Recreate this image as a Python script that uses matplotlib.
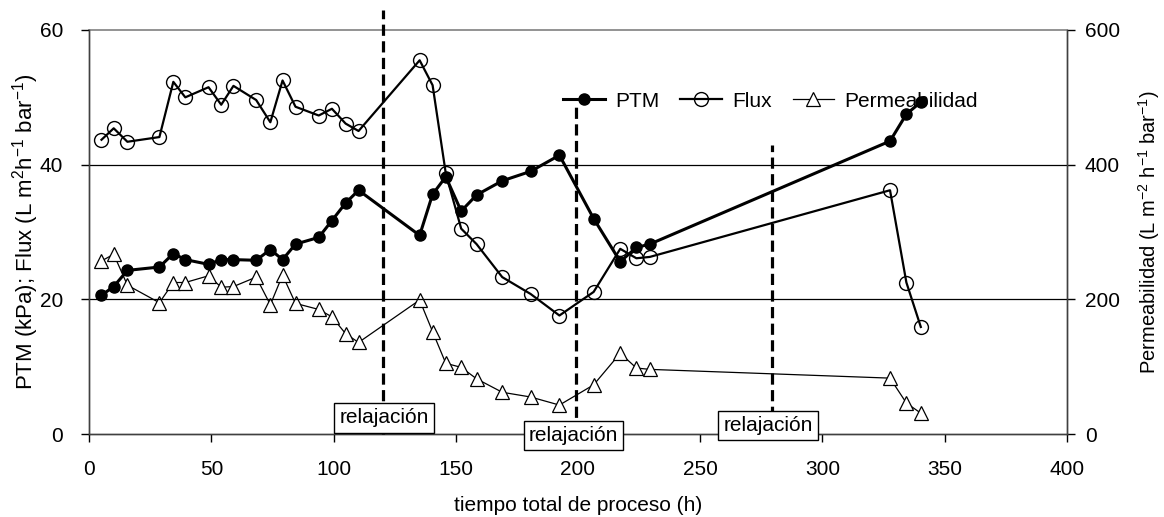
import numpy as np
import matplotlib
matplotlib.use("Agg")
import matplotlib.pyplot as plt
from matplotlib.lines import Line2D

plt.rcParams['font.family'] = ['Liberation Sans', 'DejaVu Sans']
plt.rcParams['mathtext.default'] = 'regular'

# tiempos de muestreo (h)
tiempo = [5, 10, 15.6, 28.7, 34.4, 39.3, 48.8, 54, 59, 68.3, 74.1, 79.1, 84.4, 93.9,
          99.3, 104.9, 110.2, 135.2, 140.5, 145.9, 152.2, 158.5, 169, 180.6, 192.4,
          206.4, 217.3, 223.9, 229.4, 327.7, 334.4, 340.3]
# presion transmembrana (kPa)
ptm = [20.6, 21.9, 24.3, 24.8, 26.8, 25.9, 25.2, 25.9, 25.9, 25.8, 27.4, 25.9, 28.2, 29.2,
       31.7, 34.3, 36.2, 29.5, 35.6, 38.2, 33.1, 35.5, 37.6, 39.0, 41.4, 32.0, 25.6, 27.7,
       28.2, 43.5, 47.5, 49.3]
# flux de permeado
flux = [43.7, 45.4, 43.4, 44.1, 52.3, 50.0, 51.5, 48.9, 51.7, 49.6, 46.3, 52.5, 48.6, 47.3,
        48.3, 46.1, 45.0, 55.5, 51.8, 38.7, 30.5, 28.2, 23.3, 20.8, 17.6, 21.1, 27.5, 26.1,
        26.3, 36.2, 22.5, 15.9]
# permeabilidad (eje derecho)
perm = [257, 267, 221, 195, 225, 225, 235, 218, 219, 233, 192, 236, 194, 185, 174, 149, 136,
        199, 152, 105, 99, 82, 62, 55, 43, 73, 120, 98, 96, 83, 46, 31]

# relajaciones: posicion, altura de la linea discontinua, posicion de la etiqueta
relaj_t = [120.2, 199.1, 279.3]
relaj_top = [63, 48.7, 42.9]
relaj_lab_x = [120.6, 198.2, 277.7]
relaj_lab_y = [2.4, -0.2, 1.3]

fig = plt.figure(figsize=(11.64, 5.17), dpi=100)
ax = fig.add_axes([0.0767, 0.1605, 0.8397, 0.7815])
ax2 = ax.twinx()

ax.set_xlim(0, 400)
ax.set_ylim(0, 60)
ax2.set_ylim(0, 600)
ax.set_xticks(np.arange(0, 401, 50))
ax.set_yticks([0, 20, 40, 60])
ax2.set_yticks([0, 200, 400, 600])

for y in [20, 40]:
    ax.axhline(y, color='black', lw=0.9, zorder=0)
ax.axhline(60, color='#808080', lw=1.2, zorder=0, clip_on=False)

for s in ['top']:
    ax.spines[s].set_visible(False)
    ax2.spines[s].set_visible(False)
for a in (ax, ax2):
    for s in ['left', 'right', 'bottom']:
        a.spines[s].set_color('#404040')
        a.spines[s].set_linewidth(1.0)

ax.tick_params(direction='out', length=6, width=1, labelsize=15, colors='black')
ax2.tick_params(direction='out', length=6, width=1, labelsize=15)
ax.tick_params(axis='x', pad=13)
ax.tick_params(axis='y', pad=13)
ax2.tick_params(axis='y', pad=7)

for xt, top in zip(relaj_t, relaj_top):
    ax.plot([xt, xt], [0, top], color='black', lw=2.3, ls=(0, (3.5, 1.7)),
            clip_on=False, zorder=3)

ax2.plot(tiempo, perm, color='black', lw=0.9, marker='^', ms=10, mfc='white',
         mec='black', mew=0.9, zorder=4)
ax.plot(tiempo, flux, color='black', lw=1.6, marker='o', ms=10, mfc='none',
        mec='black', mew=1.0, zorder=5)
ax.plot(tiempo, ptm, color='black', lw=2.2, marker='o', ms=8, mfc='black',
        mec='black', zorder=6)
ax.set_zorder(ax2.get_zorder() + 1)
ax.patch.set_visible(False)

for xl, yl in zip(relaj_lab_x, relaj_lab_y):
    ax.text(xl, yl, 'relajación', fontsize=15, ha='center', va='center', zorder=10,
            clip_on=False,
            bbox=dict(boxstyle='square,pad=0.25', fc='white', ec='black', lw=1.0))

handles = [
    Line2D([], [], color='black', lw=2.2, marker='o', ms=8, mfc='black'),
    Line2D([], [], color='black', lw=1.6, marker='o', ms=10, mfc='none', mew=1.0),
    Line2D([], [], color='black', lw=0.9, marker='^', ms=10, mfc='white', mew=0.9),
]
ax.legend(handles, ['PTM', 'Flux', 'Permeabilidad'], ncol=3, frameon=False,
          fontsize=15, loc='center', bbox_to_anchor=(0.697, 0.824),
          handlelength=2.0, handletextpad=0.5, columnspacing=1.0, borderpad=0)

ax.set_xlabel('tiempo total de proceso (h)', fontsize=15, labelpad=12)
ax.set_ylabel('PTM (kPa); Flux (L m$^{2}$h$^{-1}$ bar$^{-1}$)', fontsize=16, labelpad=-1)
ax2.set_ylabel('Permeabilidad (L m$^{-2}$ h$^{-1}$ bar$^{-1}$)', fontsize=14.5, labelpad=12)

fig.savefig('out.png', dpi=100)
